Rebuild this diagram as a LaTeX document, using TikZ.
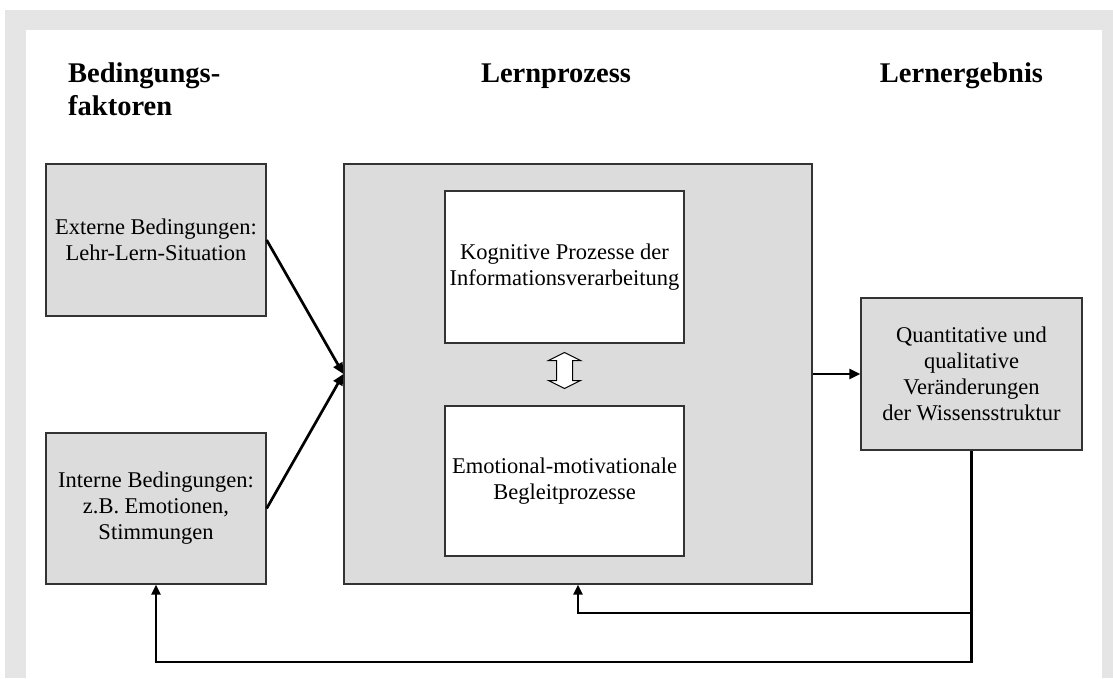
\documentclass[tikz,border=0pt]{standalone}
\usepackage{fontspec}
\setmainfont{Liberation Serif}
\usetikzlibrary{arrows.meta,calc}
\definecolor{lernframe}{RGB}{229,229,229}
\definecolor{lernbox}{RGB}{220,220,220}
\definecolor{lernline}{RGB}{51,51,51}

\begin{document}
\begin{tikzpicture}[x=1pt, y=-1pt,
    box/.style={draw=lernline, line width=1.3pt, fill=lernbox, align=center, inner sep=2pt, font=\fontsize{22.5}{26}\selectfont},
    innerbox/.style={box, fill=white},
    head/.style={font=\fontsize{28.5}{33}\selectfont\bfseries, inner sep=0pt},
    flow/.style={line width=2.7pt, -{Triangle[length=11pt, width=10pt]}},
    back/.style={line width=2.6pt, -{Triangle[length=10pt, width=9pt]}},
    swaparrow/.style={draw=black, line width=1pt, fill=white, line join=miter}]
    \useasboundingbox (0,0) rectangle (1113,678);
    \fill[lernframe] (5,10) rectangle (1113,678);
    \fill[white] (26,30) rectangle (1102,678);

    \node[head, anchor=north west, align=left] (hcond) at (68,63) {Bedingungs-\\faktoren};
    \node[head, anchor=base] (hproc) at (556,82) {Lernprozess};
    \node[head, anchor=base] (hres) at (961.5,82) {Lernergebnis};

    \node[box, minimum width=220, minimum height=152] (ext) at (156,240) {Externe Bedingungen:\\Lehr-Lern-Situation};
    \node[box, minimum width=220, minimum height=151] (int) at (156,508.5) {Interne Bedingungen:\\z.B. Emotionen,\\Stimmungen};
    \node[box, minimum width=468, minimum height=420] (proc) at (578,374) {};
    \node[innerbox, minimum width=239, minimum height=152] (kog) at (564.5,267) {Kognitive Prozesse der\\Informationsverarbeitung};
    \node[innerbox, minimum width=239, minimum height=150] (emo) at (564.5,481) {Emotional-motivationale\\Begleitprozesse};
    \node[box, minimum width=221, minimum height=152] (erg) at (971.5,374) {Quantitative und\\qualitative\\Veränderungen\\der Wissensstruktur};

    \coordinate (swap) at ($(kog.south)!0.5!(emo.north)+(0,-4)$);
    \draw[swaparrow] ([shift={(0,-18)}]swap) -- ++(16,8) -- ++(-8,0) -- ++(0,20) -- ++(8,0) -- ++(-16,8)
        -- ++(-16,-8) -- ++(8,0) -- ++(0,-20) -- ++(-8,0) -- cycle;

    \draw[flow] (ext.east) -- (proc.west);
    \draw[flow] (int.east) -- (proc.west);
    \draw[flow] (proc.east) -- (erg.west);

    \coordinate (backA) at (971.5,613);
    \coordinate (backB) at (971.5,662);
    \draw[back] (erg.south) -- (backB) -| (int.south);
    \draw[back] (backA) -| (proc.south);
\end{tikzpicture}
\end{document}
